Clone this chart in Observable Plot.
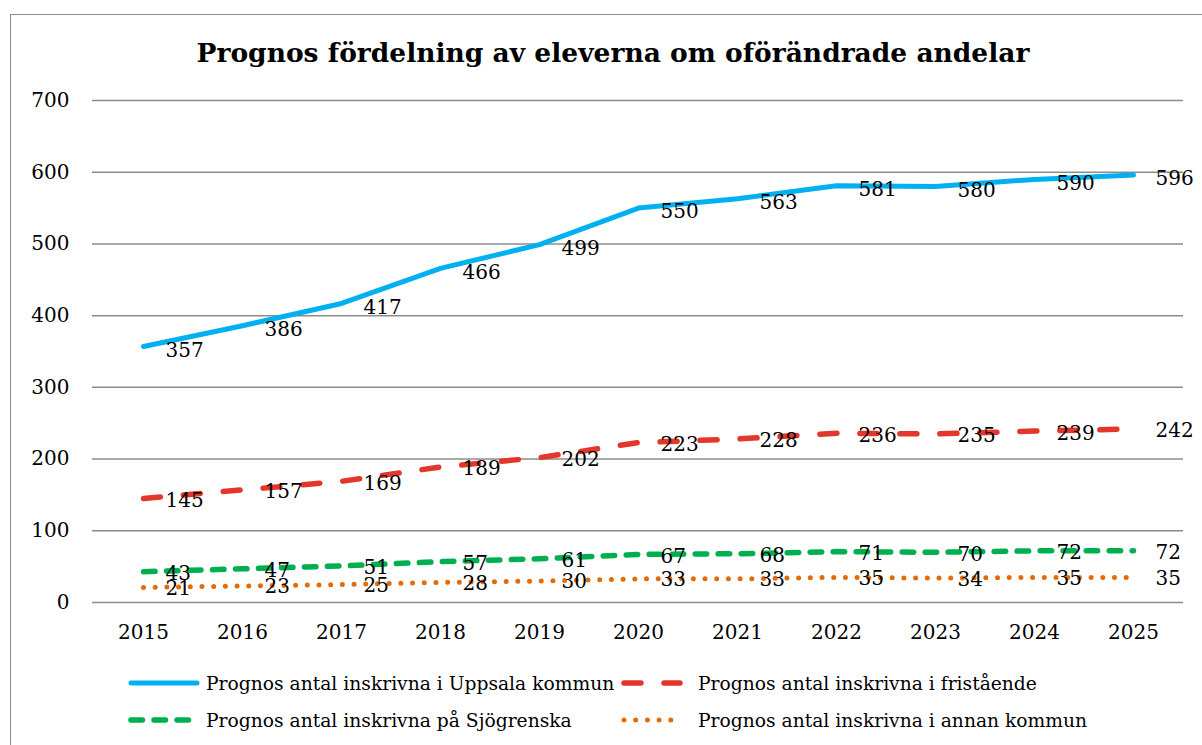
<!DOCTYPE html>
<html>
<head>
<meta charset="utf-8">
<script src="https://cdn.jsdelivr.net/npm/d3@7"></script>
<script src="https://cdn.jsdelivr.net/npm/@observablehq/plot@0.6"></script>
<style>
  html, body { margin: 0; padding: 0; background: #fff; overflow: hidden; }
  body { width: 1202px; height: 745px; position: relative; font-family: "DejaVu Serif", serif; color: #000; }
  #frame { position: absolute; left: 10px; top: 14px; width: 1300px; height: 900px; border: 1.5px solid #8c8c8c; box-sizing: border-box; }
  #title { position: absolute; left: 0; width: 1226px; top: 37px; line-height: 32px; text-align: center; font-weight: bold; font-size: 26.5px; }
  #chart { position: absolute; left: 0; top: 70px; }
  .leg { position: absolute; display: flex; align-items: center; font-size: 18.7px; white-space: nowrap; }
</style>
</head>
<body>
<div id="frame"></div>
<div id="title">Prognos fördelning av eleverna om oförändrade andelar</div>
<div id="chart"></div>
<div id="legend"></div>
<script>
// ---- data ----
const years = [2015, 2016, 2017, 2018, 2019, 2020, 2021, 2022, 2023, 2024, 2025];
const uppsala = [357, 386, 417, 466, 499, 550, 563, 581, 580, 590, 596];
const fristaende = [145, 157, 169, 189, 202, 223, 228, 236, 235, 239, 242];
const sjogrenska = [43, 47, 51, 57, 61, 67, 68, 71, 70, 72, 72];
const annan = [21, 23, 25, 28, 30, 33, 33, 35, 34, 35, 35];
const seriesNames = [
  "Prognos antal inskrivna i Uppsala kommun",
  "Prognos antal inskrivna i fristående",
  "Prognos antal inskrivna på Sjögrenska",
  "Prognos antal inskrivna i annan kommun"
];
const yTicks = [0, 100, 200, 300, 400, 500, 600, 700];

// ---- styles ----
const styles = [
  {color: "#00b0f0", width: 5, dash: null, labelDy: 4},
  {color: "#e2372a", width: 5.5, dash: "17,23", labelDy: 2},
  {color: "#00b050", width: 5.5, dash: "11.5,11.5", labelDy: 2},
  {color: "#e36c09", width: 5, dash: "0,11.7", labelDy: 1}
];

const seriesValues = [uppsala, fristaende, sjogrenska, annan];
const tables = seriesValues.map((vals, i) =>
  years.map((yr, j) => ({year: yr, value: vals[j], series: seriesNames[i]})));

const marks = [
  Plot.ruleY(yTicks, {stroke: "#8c8c8c", strokeWidth: 1.5})
];
tables.forEach((t, i) => {
  const s = styles[i];
  marks.push(Plot.line(t, {
    x: "year", y: "value", stroke: s.color, strokeWidth: s.width,
    strokeDasharray: s.dash, strokeLinecap: "round", strokeLinejoin: "round"
  }));
});
tables.forEach((t, i) => {
  marks.push(Plot.text(t, {
    x: "year", y: "value", text: d => String(d.value),
    dx: 22, dy: styles[i].labelDy, textAnchor: "start", fontSize: 20, fill: "#000"
  }));
});
marks.push(Plot.axisY(yTicks, {tickSize: 0, tickPadding: 23, fontSize: 20, label: null, fill: "#000"}));
marks.push(Plot.axisX({tickSize: 0, tickPadding: 22, fontSize: 20, label: null, fill: "#000", tickFormat: d => String(d)}));

const chart = Plot.plot({
  width: 1202,
  height: 592,
  marginLeft: 92,
  marginRight: 19,
  marginTop: 30,
  marginBottom: 60,
  style: {fontFamily: "'DejaVu Serif', serif", background: "transparent", color: "#000", overflow: "visible"},
  x: {type: "point", domain: years, padding: 0.5},
  y: {domain: [0, 700]},
  marks
});
document.getElementById("chart").appendChild(chart);

// ---- legend ----
const legendPos = [
  {left: 128, top: 683}, {left: 621, top: 683},
  {left: 128, top: 720}, {left: 621, top: 720}
];
const legend = document.getElementById("legend");
seriesNames.forEach((name, i) => {
  const s = styles[i];
  const p = legendPos[i];
  const div = document.createElement("div");
  div.className = "leg";
  div.style.left = p.left + "px";
  div.style.top = (p.top - 14) + "px";
  div.style.height = "28px";
  const symW = i % 2 === 0 ? 72 : 62;
  const gapW = i % 2 === 0 ? 6 : 15;
  div.innerHTML = `<svg width="${symW}" height="12" style="margin-right:${gapW}px"><line x1="3" y1="6" x2="${symW - 3}" y2="6" stroke="${s.color}" stroke-width="${s.width}" stroke-linecap="round" ${s.dash ? `stroke-dasharray="${s.dash}"` : ""}/></svg><span>${name}</span>`;
  legend.appendChild(div);
});
</script>
</body>
</html>
